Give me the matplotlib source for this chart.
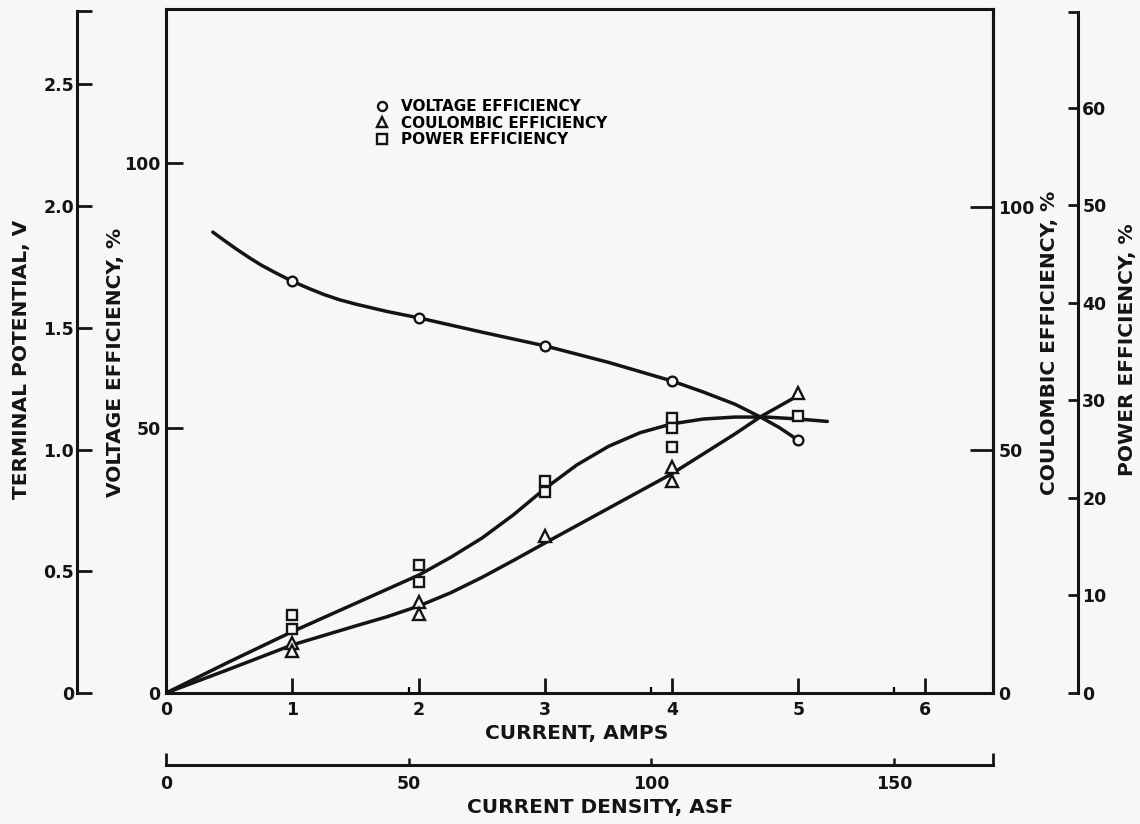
import matplotlib
matplotlib.use("Agg")
import matplotlib.pyplot as plt
from matplotlib.lines import Line2D
from matplotlib.ticker import FixedLocator, FixedFormatter

# ---------------- data ----------------
# measured points
ve_pts_x = [1, 2, 3, 4, 5]
ve_pts = [77.7, 70.8, 65.5, 58.9, 47.7]                      # voltage efficiency, %
ce_pts_x = [1, 1, 2, 2, 3, 4, 4, 5]
ce_pts = [10.3, 8.6, 18.7, 16.3, 32.3, 46.5, 43.6, 61.7]     # coulombic efficiency, %
pe_pts_x = [1, 1, 2, 2, 3, 3, 4, 4, 4, 5]
pe_pts = [8.0, 6.6, 13.1, 11.4, 21.7, 20.6, 28.2, 27.2, 25.2, 28.4]  # power efficiency, %

# hand-drawn curves
ve_curve_x = [0.37, 0.45, 0.55, 0.65, 0.75, 0.875, 1.0, 1.125, 1.25, 1.375, 1.5,
              1.75, 2.0, 2.5, 3.0, 3.5, 4.0, 4.25, 4.5, 4.7, 4.85, 5.0]
ve_curve = [87.0, 85.6, 83.9, 82.3, 80.8, 79.2, 77.7, 76.4, 75.2, 74.2, 73.4,
            72.0, 70.8, 68.1, 65.5, 62.4, 58.9, 56.8, 54.5, 52.1, 50.1, 47.7]
ce_curve_x = [0, 0.5, 1.0, 1.5, 1.75, 2.0, 2.25, 2.5, 2.75, 3.0, 3.5, 4.0,
              4.25, 4.5, 4.7, 5.0]
ce_curve = [0, 4.9, 9.9, 13.8, 15.7, 17.9, 20.6, 23.8, 27.3, 30.9, 38.0, 45.1,
            49.2, 53.3, 56.8, 61.2]
pe_curve_x = [0, 0.5, 1.0, 1.5, 2.0, 2.25, 2.5, 2.75, 3.0, 3.25, 3.5, 3.75,
              4.0, 4.25, 4.5, 4.75, 5.0, 5.23]
pe_curve = [0, 3.2, 6.3, 9.2, 12.1, 13.9, 15.9, 18.3, 21.0, 23.4, 25.3, 26.7,
            27.6, 28.1, 28.3, 28.3, 28.1, 27.85]

# axes scales / ticks
X_MAX = 6.54            # amps
ASF_PER_AMP = 26.05     # current density per amp
VE_MAX = 129.1
TP_MAX, TP_TOP = 2.81, 2.80
CE_MAX = 140.7
PE_MAX, PE_TOP = 70.15, 69.8

amp_ticks = [0, 1, 2, 3, 4, 5, 6]
amp_labels = ["0", "1", "2", "3", "4", "5", "6"]
asf_ticks = [0, 50, 100, 150]
asf_labels = ["0", "50", "100", "150"]
ve_ticks = [0, 50, 100]
ve_labels = ["0", "50", "100"]
tp_ticks = [0, 0.5, 1.0, 1.5, 2.0, 2.5]
tp_labels = ["0", "0.5", "1.0", "1.5", "2.0", "2.5"]
ce_ticks = [0, 50, 100]
ce_labels = ["0", "50", "100"]
pe_ticks = [0, 10, 20, 30, 40, 50, 60]
pe_labels = ["0", "10", "20", "30", "40", "50", "60"]

legend_labels = ["VOLTAGE EFFICIENCY", "COULOMBIC EFFICIENCY", "POWER EFFICIENCY"]

# ---------------- style ----------------
BG = "#f7f7f5"
INK = "#141414"
LW = 2.2
CURVE_LW = 2.5
plt.rcParams["font.family"] = ["DejaVu Sans"]
plt.rcParams["font.weight"] = "bold"
TICK_FS = 12.5
LABEL_FS = 14.5

FW, FH = 1140, 824
fig = plt.figure(figsize=(FW / 100, FH / 100), dpi=100, facecolor=BG)

Lpx, Rpx, Tpx, Bpx = 166, 993, 9, 693
L = Lpx / FW
W = (Rpx - Lpx) / FW
B = 1 - Bpx / FH
H = (Bpx - Tpx) / FH

ax = fig.add_axes([L, B, W, H])
ax.set_facecolor("none")
axT = ax.twinx()
axC = ax.twinx()
axP = ax.twinx()

for a in (ax, axT, axC, axP):
    for s in a.spines.values():
        s.set_linewidth(LW)
        s.set_color(INK)

# main axes: current (x) and voltage efficiency (left)
ax.set_xlim(0, X_MAX)
ax.set_ylim(0, VE_MAX)
ax.set_xticks(amp_ticks)
ax.set_xticklabels(amp_labels)
ax.xaxis.set_minor_locator(FixedLocator([v / ASF_PER_AMP for v in asf_ticks[1:]]))
ax.tick_params(axis="x", which="major", direction="in", length=10.8, width=2.0,
               pad=6, top=False, labelsize=TICK_FS, colors=INK)
ax.tick_params(axis="x", which="minor", direction="in", length=4.3, width=1.6, top=False)
ax.set_yticks(ve_ticks)
ax.set_yticklabels(ve_labels)
ax.tick_params(axis="y", direction="in", length=12.2, width=2.0, pad=4,
               right=False, labelsize=TICK_FS, colors=INK)

# terminal potential axis (far left)
for k in ("right", "top", "bottom"):
    axT.spines[k].set_visible(False)
axT.spines["left"].set_visible(True)
axT.spines["left"].set_position(("axes", (77 - Lpx) / (Rpx - Lpx)))
axT.yaxis.set_ticks_position("left")
axT.set_ylim(0, TP_MAX)
axT.spines["left"].set_bounds(0, TP_TOP)
axT.set_yticks(tp_ticks + [TP_TOP])
axT.set_yticklabels(tp_labels + [""])
axT.tick_params(axis="y", direction="in", length=10.8, width=2.0, pad=2,
                labelsize=TICK_FS, colors=INK)

# coulombic efficiency axis (right side of box)
for k in ("left", "top", "bottom"):
    axC.spines[k].set_visible(False)
axC.set_ylim(0, CE_MAX)
axC.set_yticks(ce_ticks)
axC.set_yticklabels(ce_labels)
axC.tick_params(axis="y", direction="in", length=16.5, width=2.0, pad=4,
                labelsize=TICK_FS, colors=INK)

# power efficiency axis (far right)
for k in ("left", "top", "bottom"):
    axP.spines[k].set_visible(False)
axP.spines["right"].set_position(("axes", (1078 - Lpx) / (Rpx - Lpx)))
axP.set_ylim(0, PE_MAX)
axP.spines["right"].set_bounds(0, PE_TOP)
axP.set_yticks(pe_ticks + [PE_TOP])
axP.set_yticklabels(pe_labels + [""])
axP.tick_params(axis="y", direction="in", length=7.2, width=2.0, pad=3,
                labelsize=TICK_FS, colors=INK)

# current density axis (separate line below)
axD = fig.add_axes([L, 1 - 765 / FH, W, 0.02])
axD.set_facecolor("none")
for k in ("left", "right", "top"):
    axD.spines[k].set_visible(False)
axD.spines["bottom"].set_linewidth(LW)
axD.spines["bottom"].set_color(INK)
axD.set_yticks([])
axD.set_xlim(0, X_MAX * ASF_PER_AMP)
axD.set_xticks([asf_ticks[0], X_MAX * ASF_PER_AMP])
axD.set_xticklabels([asf_labels[0], ""])
axD.xaxis.set_minor_locator(FixedLocator(asf_ticks[1:]))
axD.xaxis.set_minor_formatter(FixedFormatter(asf_labels[1:]))
axD.tick_params(axis="x", which="major", direction="in", length=8.6, width=2.0,
                pad=7, labelsize=TICK_FS, colors=INK)
axD.tick_params(axis="x", which="minor", direction="in", length=5.0, width=1.8,
                pad=7, labelsize=TICK_FS, colors=INK)

# ---------------- curves and points ----------------
mk = dict(ls="none", mfc=BG, mec=INK, mew=1.7, zorder=4, clip_on=False)
ax.plot(ve_curve_x, ve_curve, color=INK, lw=CURVE_LW, solid_capstyle="round",
        solid_joinstyle="round", zorder=2)
ax.plot(ve_pts_x, ve_pts, marker="o", ms=7, **mk)
axC.plot(ce_curve_x, ce_curve, color=INK, lw=CURVE_LW, solid_capstyle="round",
         solid_joinstyle="round", zorder=2)
axC.plot(ce_pts_x, ce_pts, marker="^", ms=8, **mk)
axP.plot(pe_curve_x, pe_curve, color=INK, lw=CURVE_LW, solid_capstyle="round",
         solid_joinstyle="round", zorder=2)
axP.plot(pe_pts_x, pe_pts, marker="s", ms=7, **mk)

# legend
handles = [
    Line2D([], [], marker="o", ls="none", mfc=BG, mec=INK, mew=1.7, ms=6.5, label=legend_labels[0]),
    Line2D([], [], marker="^", ls="none", mfc=BG, mec=INK, mew=1.7, ms=7, label=legend_labels[1]),
    Line2D([], [], marker="s", ls="none", mfc=BG, mec=INK, mew=1.7, ms=6.5, label=legend_labels[2]),
]
axP.legend(handles=handles, loc="upper left",
           bbox_to_anchor=((374 - Lpx) / (Rpx - Lpx), (Bpx - 99) / (Bpx - Tpx)),
           frameon=False, borderpad=0, borderaxespad=0, handlelength=1.0,
           handletextpad=0.75, labelspacing=0.1,
           prop=dict(size=11, weight="bold"))

# ---------------- axis titles ----------------
def ftext(xp, yp, s, rot=0):
    fig.text(xp / FW, 1 - yp / FH, s, rotation=rot, ha="center", va="center",
             fontsize=LABEL_FS, fontweight="bold", color=INK)

ftext(22, 359, "TERMINAL POTENTIAL, V", 90)
ftext(116, 362, "VOLTAGE EFFICIENCY, %", 90)
ftext(1049, 343, "COULOMBIC EFFICIENCY, %", 90)
ftext(1127, 350, "POWER EFFICIENCY, %", 90)
ftext(577, 733, "CURRENT, AMPS")
ftext(600, 808, "CURRENT DENSITY, ASF")

fig.savefig("out.png", dpi=100, facecolor=BG)
